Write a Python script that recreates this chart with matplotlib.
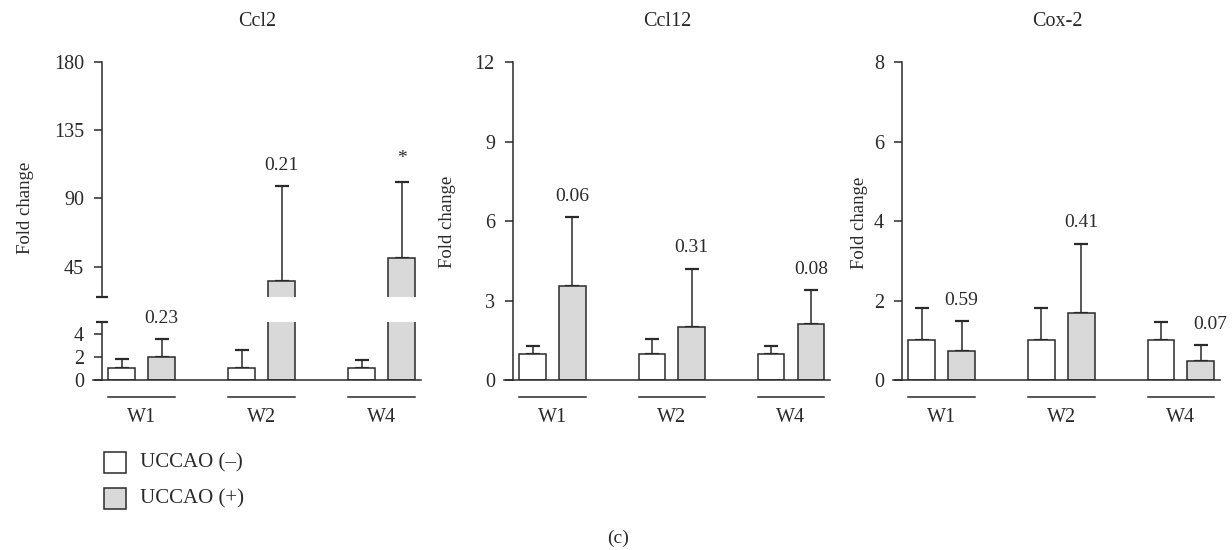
import matplotlib
matplotlib.use('Agg')
import matplotlib.pyplot as plt
import matplotlib.transforms as mtransforms
from matplotlib.patches import Rectangle

plt.rcParams['font.family'] = ['Liberation Serif', 'DejaVu Serif']

# ---------------- data ----------------
weeks = ['W1', 'W2', 'W4']
groups = ['UCCAO (–)', 'UCCAO (+)']
titles = ['Ccl2', 'Ccl12', 'Cox-2']

ccl2_neg = [1.0, 1.0, 1.0]
ccl2_neg_sd = [0.8, 1.6, 0.7]
ccl2_pos = [2.0, 35.5, 50.5]
ccl2_pos_sd = [1.5, 62.5, 50.5]
ccl2_p = ['0.23', '0.21', '*']

ccl12_neg = [1.0, 1.0, 1.0]
ccl12_neg_sd = [0.3, 0.55, 0.3]
ccl12_pos = [3.55, 2.0, 2.1]
ccl12_pos_sd = [2.6, 2.2, 1.3]
ccl12_p = ['0.06', '0.31', '0.08']

cox2_neg = [1.0, 1.0, 1.0]
cox2_neg_sd = [0.8, 0.8, 0.47]
cox2_pos = [0.72, 1.68, 0.47]
cox2_pos_sd = [0.76, 1.75, 0.4]
cox2_p = ['0.59', '0.41', '0.07']

ccl2_low_ticks = [0, 2, 4]
ccl2_high_ticks = [45, 90, 135, 180]
ccl12_ticks = [0, 3, 6, 9, 12]
cox2_ticks = [0, 2, 4, 6, 8]

# ---------------- style ----------------
W, H = 1232, 550
FS = 13.5
FS_TICK = 14.5
FS_TITLE = 14.5
FS_P = 14
FS_LEG = 15
DARK = '#2a2a2a'
GRAY = '#d9d9d9'
BW = 0.67
LW = 1.1
x_neg = [0, 3, 6]
x_pos = [1, 4, 7]
x_grp = [0.5, 3.5, 6.5]
XLIM = (-0.72, 7.48)

fig = plt.figure(figsize=(W / 100, H / 100), dpi=100)


def px_axes(l, t, r, b):
    return fig.add_axes([l / W, 1 - b / H, (r - l) / W, (b - t) / H])


def style_axes(ax, ticks, ylim, bottom=True):
    ax.set_xlim(*XLIM)
    ax.set_ylim(*ylim)
    for s in ['top', 'right']:
        ax.spines[s].set_visible(False)
    ax.spines['left'].set_position(('data', -0.5))
    ax.spines['left'].set_color(DARK)
    ax.spines['left'].set_linewidth(LW)
    ax.spines['bottom'].set_color(DARK)
    ax.spines['bottom'].set_linewidth(LW)
    if not bottom:
        ax.spines['bottom'].set_visible(False)
    ax.set_xticks([])
    ax.set_yticks(ticks)
    ax.tick_params(axis='y', direction='out', length=5.8, width=LW, color=DARK,
                   labelsize=FS_TICK, labelcolor=DARK, pad=7)
    ax.patch.set_alpha(0)


def draw_bars(ax, neg, neg_sd, pos, pos_sd):
    ax.bar(x_neg, neg, width=BW, color='white', edgecolor=DARK, linewidth=LW, zorder=2)
    ax.bar(x_pos, pos, width=BW, color=GRAY, edgecolor=DARK, linewidth=LW, zorder=2)
    ax.errorbar(x_neg, neg, yerr=[[0] * 3, neg_sd], fmt='none', ecolor=DARK,
                elinewidth=LW, capsize=5, capthick=1.6, zorder=1)
    ax.errorbar(x_pos, pos, yerr=[[0] * 3, pos_sd], fmt='none', ecolor=DARK,
                elinewidth=LW, capsize=5, capthick=1.6, zorder=1)


def p_label(ax, x, top, lab, dx=0):
    off_y = 16.5 if lab == '*' else 15
    ax.annotate(lab, xy=(x, top), xytext=(dx, off_y), textcoords='offset points',
                ha='center', va='center', fontsize=FS_P, color=DARK, annotation_clip=False)


def week_axis(ax):
    trans = mtransforms.blended_transform_factory(ax.transData, ax.transAxes)
    t_line = trans + mtransforms.ScaledTranslation(0, -17 / 100, fig.dpi_scale_trans)
    t_text = trans + mtransforms.ScaledTranslation(0, -37 / 100, fig.dpi_scale_trans)
    for xn, xp, xg, wk in zip(x_neg, x_pos, x_grp, weeks):
        ax.plot([xn - BW / 2, xp + BW / 2], [0, 0], color=DARK, lw=LW,
                transform=t_line, clip_on=False)
        ax.text(xg, 0, wk, transform=t_text, ha='center', va='center',
                fontsize=FS_TICK, color=DARK)


# ---------- Panel 1: Ccl2 (broken axis) ----------
ax1u = px_axes(93, 62, 421, 297)
ax1l = px_axes(93, 322, 421, 380)
style_axes(ax1u, ccl2_high_ticks, (25, 180), bottom=False)
style_axes(ax1l, ccl2_low_ticks, (0, 5))
for ax in (ax1u, ax1l):
    draw_bars(ax, ccl2_neg, ccl2_neg_sd, ccl2_pos, ccl2_pos_sd)
ax1u.plot([-0.5], [25], marker='_', ms=9, mew=1.6, color=DARK, clip_on=False)
ax1l.plot([-0.5], [5], marker='_', ms=9, mew=1.6, color=DARK, clip_on=False)
for x, v, s, lab in zip(x_pos, ccl2_pos, ccl2_pos_sd, ccl2_p):
    p_label(ax1l if v + s <= 5 else ax1u, x, v + s, lab)
week_axis(ax1l)

# ---------- Panel 2: Ccl12 ----------
ax2 = px_axes(504, 62, 830, 380)
style_axes(ax2, ccl12_ticks, (0, 12))
draw_bars(ax2, ccl12_neg, ccl12_neg_sd, ccl12_pos, ccl12_pos_sd)
for x, v, s, lab in zip(x_pos, ccl12_pos, ccl12_pos_sd, ccl12_p):
    p_label(ax2, x, v + s, lab)
week_axis(ax2)

# ---------- Panel 3: Cox-2 ----------
ax3 = px_axes(893, 62, 1220, 380)
style_axes(ax3, cox2_ticks, (0, 8))
draw_bars(ax3, cox2_neg, cox2_neg_sd, cox2_pos, cox2_pos_sd)
for i, (x, v, s, lab) in enumerate(zip(x_pos, cox2_pos, cox2_pos_sd, cox2_p)):
    p_label(ax3, x, v + s, lab, dx=6.5 if i == 2 else 0)
week_axis(ax3)

# ---------- titles & y labels ----------
for title, cx in zip(titles, [257, 667, 1057]):
    fig.text(cx / W, 1 - 22 / H, title, ha='center', va='center', fontsize=FS_TITLE, color=DARK)
for cx, cy in [(25, 208), (448, 222), (860, 223)]:
    fig.text(cx / W, 1 - cy / H, 'Fold change', rotation=90, ha='center', va='center',
             fontsize=FS, color=DARK)

# ---------- legend ----------
for lab, fc, top in zip(groups, ['white', GRAY], [452, 488]):
    fig.add_artist(Rectangle((104 / W, 1 - (top + 21) / H), 22 / W, 21 / H,
                             transform=fig.transFigure, facecolor=fc,
                             edgecolor=DARK, linewidth=LW))
    fig.text(140 / W, 1 - (top + 10.5) / H, lab, ha='left', va='center',
             fontsize=FS_LEG, color=DARK)

fig.text(618 / W, 1 - 538 / H, '(c)', ha='center', va='center', fontsize=14, color=DARK)

fig.savefig('out.png', dpi=100)
